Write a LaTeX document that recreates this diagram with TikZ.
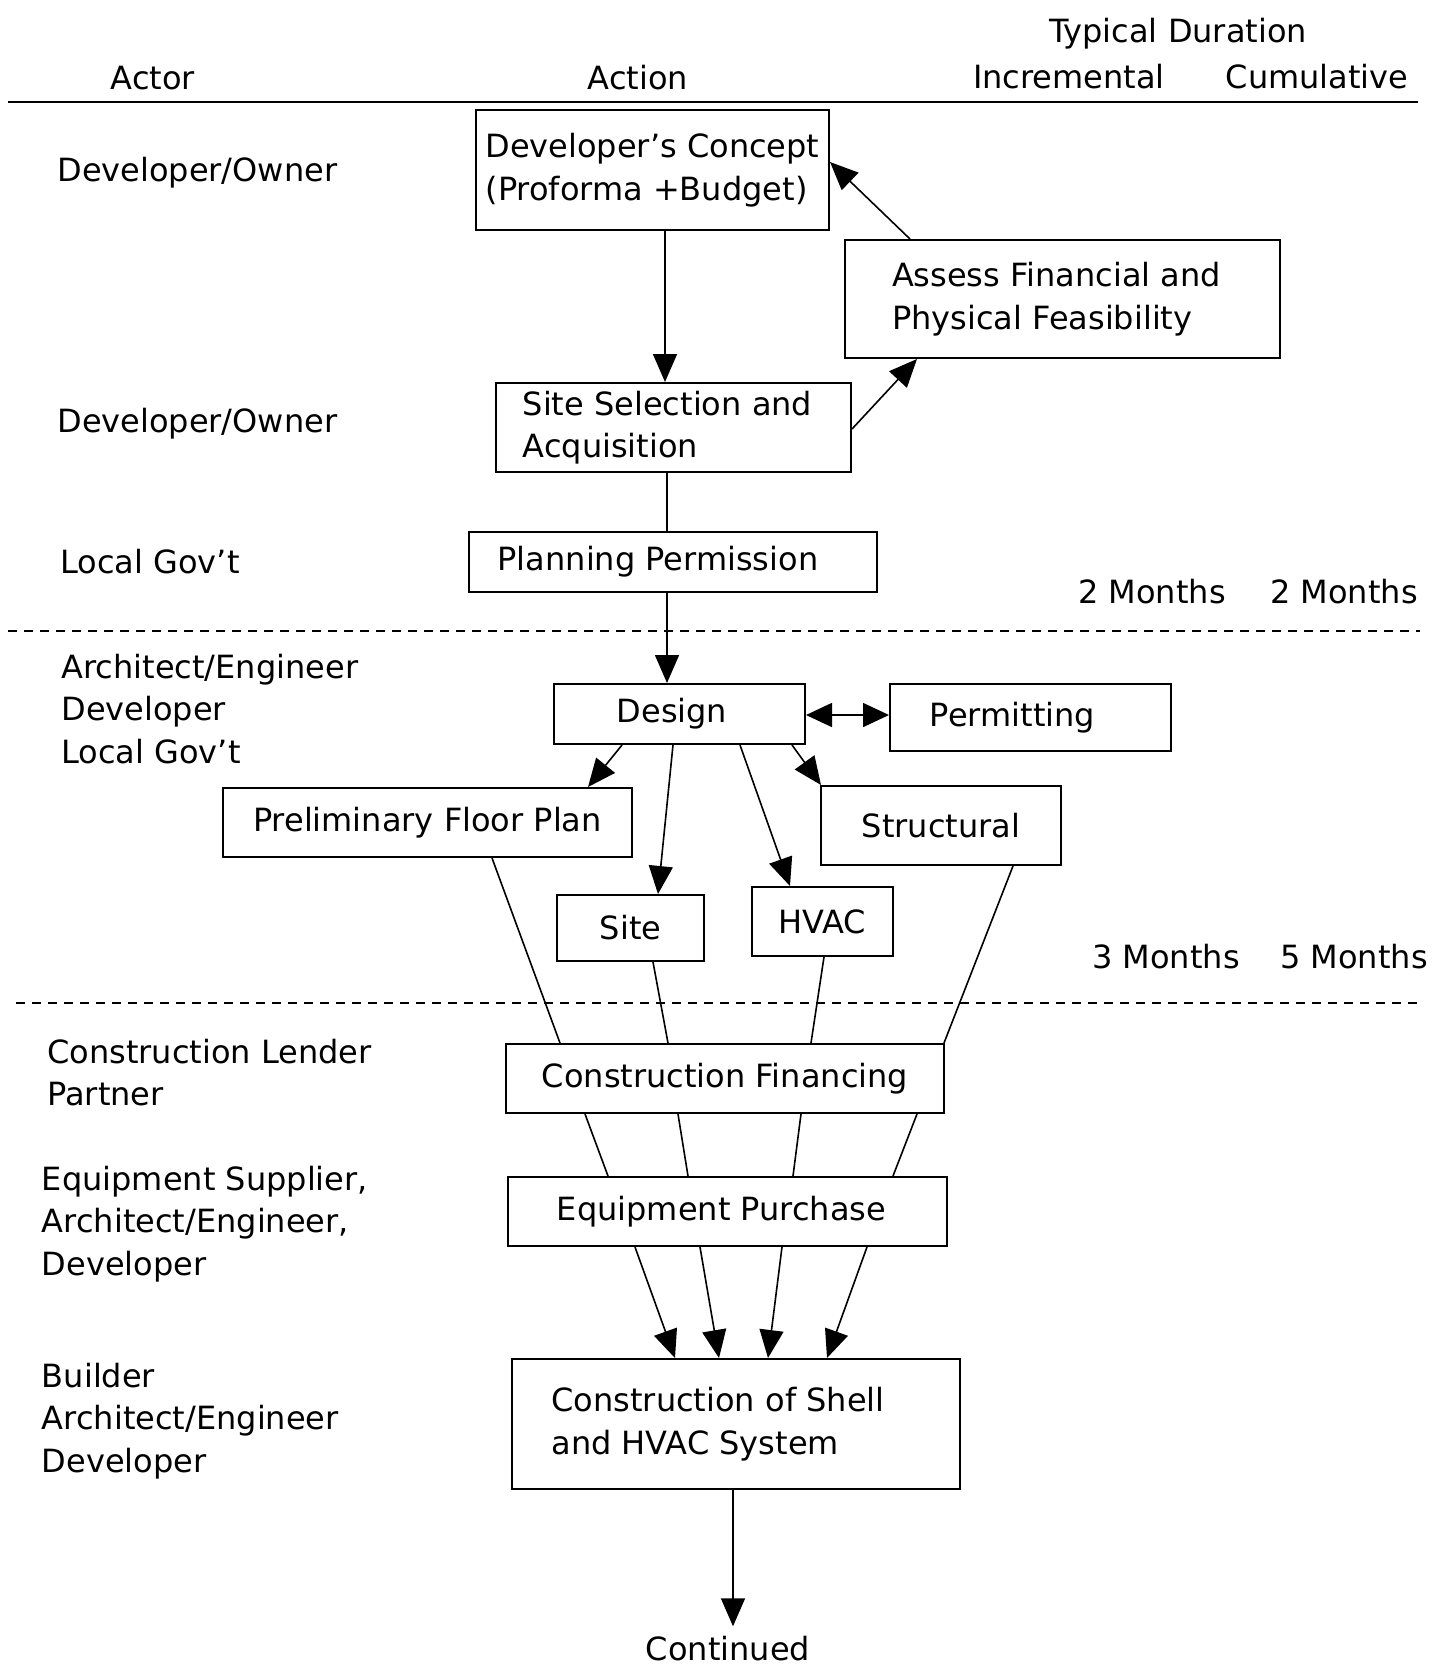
\documentclass[tikz,border=0pt]{standalone}
\usepackage{fontspec}
\setmainfont{DejaVu Sans}
\usetikzlibrary{arrows.meta}
\newcommand\diagfont{\fontsize{16}{21.25}\selectfont}
\begin{document}
\begin{tikzpicture}[x=0.5pt,y=-0.5pt,
  every node/.style={font=\diagfont},
  box/.style={draw, line width=1pt, inner sep=0pt, align=left},
  lbl/.style={inner sep=0pt, align=left, anchor=base west},
  hdr/.style={inner sep=0pt, anchor=base},
  arr/.style={line width=0.8pt, -{Triangle[length=14pt,width=12pt]}},
  darr/.style={line width=0.8pt, {Triangle[length=13pt,width=12pt]}-{Triangle[length=13pt,width=12pt]}},
  ln/.style={line width=0.8pt},
  sep/.style={line width=0.8pt, dash pattern=on 4.5pt off 3.5pt},
]
\useasboundingbox (0,0) rectangle (1440,1667);
\fill[white] (0,0) rectangle (1440,1667);

% header
\node[hdr] (hTyp) at (1178,42) {Typical Duration};
\node[hdr] (hActor) at (153,89) {Actor};
\node[hdr] (hAction) at (638,89) {Action};
\node[hdr] (hInc) at (1069,88) {Incremental};
\node[hdr] (hCum) at (1317,88) {Cumulative};
\draw[line width=1pt] (8,102) -- (1418,102);

% separators
\draw[sep] (8,631) -- (1420,631);
\draw[sep] (16,1003) -- (1420,1003);

% durations
\node[hdr] (m1) at (1152,603) {2 Months};
\node[hdr] (m2) at (1344,603) {2 Months};
\node[hdr] (m3) at (1166,968) {3 Months};
\node[hdr] (m4) at (1354,968) {5 Months};

% actors (base anchor of a multi-line node is its last line)
\node[lbl] (a1) at (57,181) {Developer/Owner};
\node[lbl] (a2) at (57,432) {Developer/Owner};
\node[lbl] (a3) at (60,573) {Local Gov't};
\node[lbl] (a4) at (61,763) {Architect/Engineer\\Developer\\Local Gov't};
\node[lbl] (a5) at (47,1105.5) {Construction Lender\\Partner};
\node[lbl] (a6) at (41.5,1275) {Equipment Supplier,\\Architect/Engineer,\\Developer};
\node[lbl] (a7) at (41.5,1472) {Builder\\Architect/Engineer\\Developer};

% boxes
\node[box, minimum width=176.5pt, minimum height=60pt] (concept) at (652.5,170) {Developer's Concept\\(Proforma +Budget)};
\node[box, minimum width=217.5pt, minimum height=59pt] (assess) at (1062.5,299) {Assess Financial and\hspace*{6pt}\\Physical Feasibility};
\node[box, minimum width=177.5pt, minimum height=44.5pt] (sitesel) at (673.5,427.5) {Site Selection and\hspace*{6pt}\\Acquisition};
\node[box, minimum width=204pt, minimum height=30pt] (planning) at (673,562) {Planning Permission\hspace*{15pt}};
\node[box, minimum width=125.5pt, minimum height=30pt] (design) at (679.5,714) {Design\hspace*{7.5pt}};
\node[box, minimum width=140.5pt, minimum height=33.5pt] (permit) at (1030.5,717.5) {Permitting\hspace*{18pt}};
\node[box, minimum width=204.5pt, minimum height=34.5pt] (prelim) at (427.5,822.5) {Preliminary Floor Plan};
\node[box, minimum width=120pt, minimum height=39.5pt] (struct) at (941,825.5) {Structural};
\node[box, minimum width=73.5pt, minimum height=33pt] (site) at (630.5,928) {Site};
\node[box, minimum width=70.5pt, minimum height=34.5pt] (hvac) at (822.5,921.5) {HVAC};
\node[box, minimum width=219pt, minimum height=34.5pt] (finance) at (725,1078.5) {Construction Financing};
\node[box, minimum width=219.5pt, minimum height=34.5pt] (equip) at (727.5,1211.5) {Equipment Purchase\hspace*{6pt}};
\node[box, minimum width=224pt, minimum height=65pt] (shell) at (736,1424) {Construction of Shell\hspace*{18pt}\\and HVAC System};
\node[hdr] (cont) at (728,1660) {Continued};

% connectors
\draw[arr] (concept.south -| 665,0) -- (sitesel.north -| 665,0);
\draw[arr] (assess.north -| 910,0) -- (concept.east |- 0,162);
\draw[arr] (sitesel.east |- 0,429) -- (assess.south -| 917,0);
\draw[ln] (sitesel.south -| 667,0) -- (planning.north -| 667,0);
\draw[arr] (planning.south -| 667,0) -- (design.north -| 667,0);
\draw[darr] (design.east |- 0,715) -- (permit.west |- 0,715);
\draw[arr] (design.south -| 622,0) -- (prelim.north -| 588,0);
\draw[arr] (design.south -| 673,0) -- (site.north -| 658,0);
\draw[arr] (design.south -| 740,0) -- (hvac.north -| 790,0);
\draw[arr] (design.south -| 792,0) -- (struct.north -| 821,0);

\draw[ln] (prelim.south -| 492,0) -- (finance.north -| 560,0);
\draw[ln] (site.south -| 653,0) -- (finance.north -| 668,0);
\draw[ln] (hvac.south -| 824,0) -- (finance.north -| 811,0);
\draw[ln] (struct.south -| 1013,0) -- (finance.north -| 944,0);

\draw[ln] (finance.south -| 585,0) -- (equip.north -| 608,0);
\draw[ln] (finance.south -| 678,0) -- (equip.north -| 688,0);
\draw[ln] (finance.south -| 801,0) -- (equip.north -| 793,0);
\draw[ln] (finance.south -| 917,0) -- (equip.north -| 893,0);

\draw[arr] (equip.south -| 635,0) -- (shell.north -| 675,0);
\draw[arr] (equip.south -| 700,0) -- (shell.north -| 719,0);
\draw[arr] (equip.south -| 782,0) -- (shell.north -| 768,0);
\draw[arr] (equip.south -| 867,0) -- (shell.north -| 827,0);

\draw[arr, shorten >=4.5pt] (shell.south -| 733,0) -- (cont.north -| 733,0);
\end{tikzpicture}
\end{document}
